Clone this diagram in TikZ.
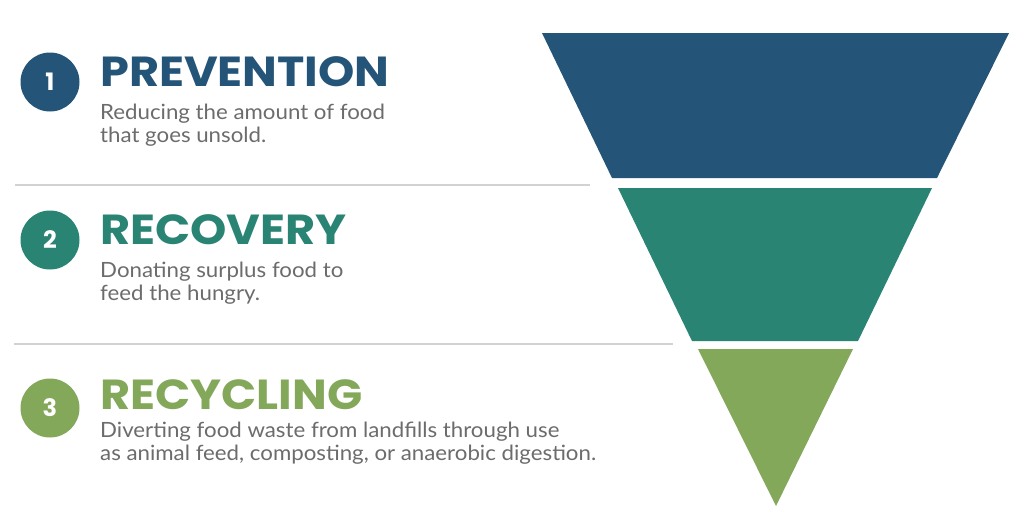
\documentclass[tikz,border=0pt]{standalone}
\usepackage{fontspec}
\setmainfont[FakeStretch=1.06]{Lato}
\newfontfamily\headfont[FakeStretch=1.1]{Poppins}
\newfontfamily\numfont{Poppins}
\usetikzlibrary{positioning}

\definecolor{prevblue}{HTML}{245478}
\definecolor{recteal}{HTML}{2A8474}
\definecolor{recgreen}{HTML}{84A85A}
\definecolor{bodygray}{HTML}{6C6C6C}
\definecolor{rulegray}{HTML}{D2D2D2}

\tikzset{
	numdot/.style={circle, minimum size=59pt, inner sep=0pt, text=white, font=\numfont\bfseries\fontsize{24}{24}\selectfont},
	headline/.style={anchor=west, inner sep=0pt, font=\headfont\bfseries\fontsize{42}{42}\selectfont},
	% base of a two-line node is the baseline of its last line
	bodyline/.style={anchor=base west, inner sep=0pt, align=left, text=bodygray, font=\fontsize{21}{23}\selectfont},
	divider/.style={rulegray, line width=2pt}
}

\begin{document}
\begin{tikzpicture}[x=1pt,y=-1pt]
		\useasboundingbox (0,0) rectangle (1023,515);
		\fill[white] (0,0) rectangle (1023,515);
		% funnel
		\fill[prevblue] (542,33) -- (1009,33) -- (937,178) -- (612,178) -- cycle;
		\fill[recteal] (618,188) -- (932,188) -- (858,341) -- (692,341) -- cycle;
		\fill[recgreen] (698,349) -- (853,349) -- (776,506) -- cycle;
		% rules
		\draw[divider] (15,185) -- (590,185);
		\draw[divider] (14,344) -- (673,344);
		% 1
		\node[numdot, fill=prevblue] (num1) at (50,82) {1};
		\node[headline, text=prevblue] (prevtitle) at (100,72) {PREVENTION};
		\node[bodyline] (prevtext) at (100,142) {Reducing the amount of food\\that goes unsold.};
		% 2
		\node[numdot, fill=recteal] (num2) at (50,240) {2};
		\node[headline, text=recteal] (recovtitle) at (100,230) {RECOVERY};
		\node[bodyline] (recovtext) at (100,300) {Donating surplus food to\\feed the hungry.};
		% 3
		\node[numdot, fill=recgreen] (num3) at (50,408) {3};
		\node[headline, text=recgreen] (recyctitle) at (100,395) {RECYCLING};
		\node[bodyline] (recyctext) at (100,460) {Diverting food waste from landfills through use\\as animal feed, composting, or anaerobic digestion.};
\end{tikzpicture}
\end{document}
